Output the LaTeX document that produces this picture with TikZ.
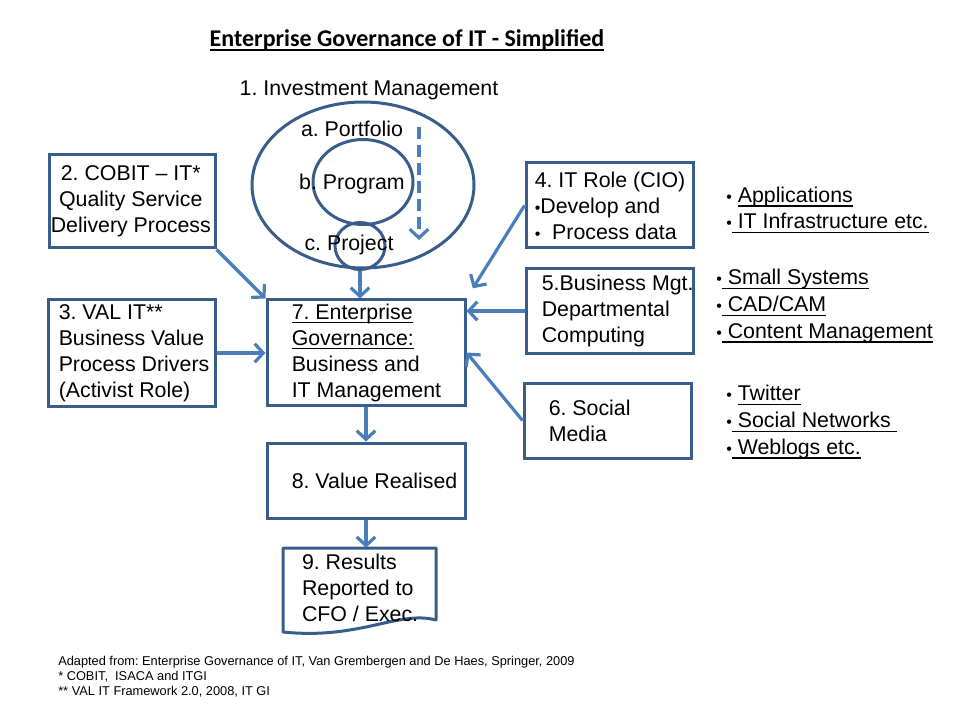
\documentclass[tikz,border=0pt]{standalone}
\usepackage{fontspec}
\setmainfont{Liberation Sans}
\newfontfamily\titlefont{Carlito}
\usetikzlibrary{shapes.geometric,fit,arrows.meta}
\frenchspacing
\definecolor{boxLine}{HTML}{385D8A}
\definecolor{arrowLine}{HTML}{4A7EBB}
\tikzset{
  govbox/.style={draw=boxLine, line width=2.25pt, inner sep=0pt},
  boxtext/.style={align=left, inner sep=0pt},
  ring/.style={ellipse, draw=boxLine, line width=2.25pt, inner sep=0pt},
  flow/.style={draw=arrowLine, line width=2.4pt,
    -{Straight Barb[length=6.5pt,width=14pt]}},
  listtext/.style={align=left, inner sep=0pt, font=\fontsize{16}{20}\selectfont}
}
\newcommand{\smallbullet}{{\fontsize{12}{12}\selectfont\textbullet}}
\newcommand{\undertext}[1]{%
  \setbox0\hbox{#1}\rlap{\rule[-3.3pt]{\wd0}{0.9pt}}\box0}
\newcommand{\govbox}[5][]{%
  \node[govbox, fit={#3}] (#2) {};
  \node[boxtext, anchor=west, #1] (#2 text) at ([xshift=#4]#2.west) {#5};%
}

\begin{document}
\begin{tikzpicture}[x=0.75pt, y=-0.75pt, font=\fontsize{16}{19.5}\selectfont]
\useasboundingbox (0,0) rectangle (960,720);

\node[font=\titlefont\bfseries\fontsize{18}{22}\selectfont] (title) at (407,40)
  {\undertext{Enterprise Governance of IT - Simplified}};

% 1: investment management rings
\node (invest label) at (369,90) {1. Investment Management};
\node[ring, minimum width=166.5pt, minimum height=124.5pt] (invest) at (363,185) {};
\node[ring, minimum width=75pt, minimum height=63.75pt] (program) at (363,182) {};
\node[ring, minimum width=37.5pt, minimum height=35.25pt] (project) at (360,246) {};
\node (portfolio label) at (352,129) {a. Portfolio};
\node (program label) at (352,184) {b. Program};
\node (project label) at (349,245) {c. Project};
\coordinate (dash top) at (419,127);
\coordinate (dash end) at (419,240);
\draw[flow, dash pattern=on 9pt off 4.5pt] (dash top) -- (dash end);

% left inputs
\govbox[align=center]{cobit}{(49,155) (215,248)}{2.25pt}
  {2. COBIT -- IT*\\Quality Service\\Delivery Process}
\govbox{valit}{(48,300) (215,406)}{9pt}
  {3. VAL IT**\\Business Value\\Process Drivers\\(Activist Role)}

% centre column
\govbox{egov}{(267,300) (465,405)}{19.5pt}
  {\undertext{7. Enterprise}\\\undertext{Governance:}\\Business and\\IT Management}
\govbox{valreal}{(267,443) (465,518)}{19.5pt}{8. Value Realised}
\node[inner sep=0pt, fit={(283,548) (436,628)}] (results) {};
\draw[boxLine, line width=2.25pt, line join=round]
  (283,632) -- (283,548) -- (436,548) -- (436,620)
  .. controls (398,610) and (360,640) .. cycle;
\node[boxtext, anchor=west] (results text) at ([xshift=14.25pt]results.west)
  {9. Results\\Reported to\\CFO / Exec.};

% right inputs
\govbox{itrole}{(526,163) (693,248)}{7.5pt}
  {4. IT Role (CIO)\\\smallbullet Develop and\\\smallbullet\ \ Process data}
\govbox{bizmgt}{(526,269) (693,353)}{12.75pt}
  {5.Business Mgt.\\Departmental\\Computing}
\govbox{social}{(524,383) (691,458)}{19.5pt}{6. Social\\Media}

% examples beside the right inputs
\node[listtext, anchor=west] (apps list) at (726,210)
  {\smallbullet\ \undertext{Applications}\\
   \smallbullet\undertext{\ IT Infrastructure etc.}};
\node[listtext, anchor=west] (systems list) at (716,306)
  {\smallbullet\undertext{\ Small Systems}\\
   \smallbullet\undertext{\ CAD/CAM}\\
   \smallbullet\undertext{\ Content Management}};
\node[listtext, anchor=west] (media list) at (726,422)
  {\smallbullet\ \undertext{Twitter}\\
   \smallbullet\undertext{\ Social Networks\ }\\
   \smallbullet\undertext{\ Weblogs etc.}};

% connectors
\draw[flow] (cobit.south east) -- (egov.north west);
\draw[flow] (valit.east) -- (valit.east -| egov.west);
\draw[flow] (project.south) -- (project.south |- egov.north);
\draw[flow, shorten >=9pt] (itrole.west) -- (egov.north east);
\draw[flow] (bizmgt.west) -- (bizmgt.west -| egov.east);
\draw[flow] (social.west) -- (egov.east);
\draw[flow] (egov.south) -- (valreal.north);
\draw[flow] (valreal.south) -- (valreal.south |- results.north);

\node[anchor=west, align=left, inner sep=0pt, font=\fontsize{9.6}{11.25}\selectfont]
  (source note) at (58,677)
  {Adapted from: Enterprise Governance of IT, Van Grembergen and De Haes, Springer, 2009\\
   {}* COBIT,\ \ ISACA and ITGI\\
   {}** VAL IT Framework 2.0, 2008, IT GI};

\end{tikzpicture}
\end{document}
